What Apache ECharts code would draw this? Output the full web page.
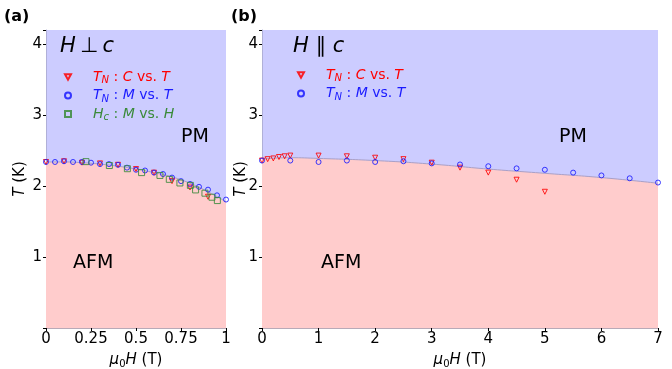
<!DOCTYPE html>
<html><head><meta charset="utf-8">
<script src="https://cdn.jsdelivr.net/npm/echarts@6/dist/echarts.min.js"></script>
<style>html,body{margin:0;padding:0;background:#fff}#c{width:672px;height:369px}</style>
</head><body><div id="c"></div>
<script>
// Panel (a): H perp c
var aBoundH = [0, 0.1, 0.2, 0.3, 0.4, 0.5, 0.6, 0.7, 0.8, 0.9, 1.0];
var aBoundT = [2.34, 2.34, 2.33, 2.31, 2.28, 2.24, 2.19, 2.13, 2.04, 1.92, 1.78];
var aCH = [0, 0.1, 0.2, 0.3, 0.4, 0.5, 0.6, 0.7, 0.8, 0.9];
var aCT = [2.34, 2.35, 2.33, 2.32, 2.30, 2.24, 2.19, 2.07, 1.98, 1.85];
var aMH = [0, 0.05, 0.1, 0.15, 0.2, 0.25, 0.3, 0.35, 0.4, 0.45, 0.5, 0.55, 0.6, 0.65, 0.7, 0.75, 0.8, 0.85, 0.9, 0.95, 1.0];
var aMT = [2.34, 2.34, 2.35, 2.34, 2.34, 2.33, 2.31, 2.31, 2.30, 2.26, 2.23, 2.22, 2.19, 2.17, 2.12, 2.07, 2.03, 1.99, 1.95, 1.87, 1.81];
var aHcH = [0.222, 0.352, 0.452, 0.531, 0.633, 0.685, 0.744, 0.802, 0.831, 0.883, 0.922, 0.952];
var aHcT = [2.345, 2.29, 2.245, 2.19, 2.15, 2.095, 2.044, 2.01, 1.946, 1.90, 1.843, 1.796];
// Panel (b): H parallel c
var bBoundH = [0, 0.5, 1, 2, 3, 4, 5, 6, 7];
var bBoundT = [2.38, 2.40, 2.39, 2.36, 2.31, 2.24, 2.18, 2.12, 2.04];
var bCH = [0, 0.1, 0.2, 0.3, 0.4, 0.5, 1, 1.5, 2, 2.5, 3, 3.5, 4, 4.5, 5];
var bCT = [2.36, 2.38, 2.39, 2.41, 2.42, 2.43, 2.43, 2.42, 2.40, 2.38, 2.33, 2.26, 2.19, 2.09, 1.92];
var bMH = [0, 0.5, 1, 1.5, 2, 2.5, 3, 3.5, 4, 4.5, 5, 5.5, 6, 6.5, 7];
var bMT = [2.36, 2.36, 2.34, 2.36, 2.34, 2.35, 2.32, 2.305, 2.28, 2.25, 2.23, 2.19, 2.15, 2.11, 2.05];
var aXTicks = ['0', '0.25', '0.5', '0.75', '1'];
var yTicks = ['1', '2', '3', '4'];

function zip(x, y) { return x.map(function (v, i) { return [v, y[i]]; }); }

var chart = echarts.init(document.getElementById('c'), null, {renderer: 'canvas'});
var FONT = 'DejaVu Sans';
var RED = '#ff0000', BLUE = '#1a1aff', GREEN = '#3a8a3a';
var TRI_DOWN = 'path://M0,0L10,0L5,9Z';

function richSet(col) {
  return {
    i: {fontFamily: FONT, fontSize: 14, fontStyle: 'italic', color: col},
    s: {fontFamily: FONT, fontSize: 10, fontStyle: 'italic', color: col, verticalAlign: 'bottom', padding: [7, 0, 0, 0]},
    n: {fontFamily: FONT, fontSize: 14, color: col}
  };
}
var rich = {};
[['r', RED], ['b', BLUE], ['g', GREEN]].forEach(function (p) {
  var rs = richSet(p[1]);
  rich[p[0] + 'i'] = rs.i; rich[p[0] + 's'] = rs.s; rich[p[0] + 'n'] = rs.n;
});
var legendFmt = {
  'C': '{ri|T}{rs|N}{rn| : }{ri|C}{rn| vs. }{ri|T}',
  'M': '{bi|T}{bs|N}{bn| : }{bi|M}{bn| vs. }{bi|T}',
  'Hc': '{gi|H}{gs|c}{gn| : }{gi|M}{gn| vs. }{gi|H}'
};

function xAxis(idx, max, interval, labels) {
  return {
    type: 'value', gridIndex: idx, min: 0, max: max, interval: interval,
    axisLine: {show: true, lineStyle: {color: '#b8aab8', width: 1}},
    axisTick: {show: true, length: 3, lineStyle: {color: '#000'}},
    splitLine: {show: false},
    axisLabel: {fontFamily: FONT, fontSize: 15, color: '#000', margin: 4,
      formatter: function (v) { return labels ? labels[Math.round(v / interval)] : String(v); }},
    name: '{i|μ}{s|0}{i|H}{n| (T)}', nameLocation: 'middle', nameGap: 23, nameMoveOverlap: false,
    nameTextStyle: {rich: {
      i: {fontFamily: FONT, fontSize: 15, fontStyle: 'italic', color: '#000'},
      s: {fontFamily: FONT, fontSize: 10, color: '#000', verticalAlign: 'bottom', padding: [8, 0, 0, 0]},
      n: {fontFamily: FONT, fontSize: 15, color: '#000'}
    }}
  };
}
function yAxis(idx, gap) {
  return {
    type: 'value', gridIndex: idx, min: 0, max: 4.2, interval: 1,
    axisLine: {show: true, lineStyle: {color: '#b0b0d8', width: 1}},
    axisTick: {show: true, length: 3, lineStyle: {color: '#000'}},
    splitLine: {show: false},
    axisLabel: {fontFamily: FONT, fontSize: 15, color: '#000', margin: 4,
      formatter: function (v) { var k = yTicks.indexOf(String(v)); return k >= 0 ? yTicks[k] : ''; }},
    name: '{i|T}{n| (K)}', nameLocation: 'middle', nameGap: gap, nameRotate: 90, nameMoveOverlap: false,
    nameTextStyle: {rich: {
      i: {fontFamily: FONT, fontSize: 15, fontStyle: 'italic', color: '#000'},
      n: {fontFamily: FONT, fontSize: 15, color: '#000'}
    }}
  };
}
function boundary(idx, x, y) {
  return {
    type: 'line', xAxisIndex: idx, yAxisIndex: idx, data: zip(x, y), showSymbol: false, symbol: 'none',
    smooth: true, silent: true, z: 1,
    lineStyle: {color: '#a8a0c8', width: 1},
    areaStyle: {color: '#ffcccc', opacity: 1, origin: 'start'}
  };
}
function scat(idx, name, x, y, sym, col, size) {
  return {
    type: 'scatter', name: name, xAxisIndex: idx, yAxisIndex: idx, data: zip(x, y),
    symbol: sym, symbolSize: size, z: 3,
    itemStyle: {color: 'rgba(0,0,0,0)', borderColor: col, borderWidth: 1, opacity: 0.85}
  };
}

var option = {
  animation: false,
  backgroundColor: '#fff',
  grid: [
    {left: 46, right: 446, top: 30, bottom: 41, show: true, backgroundColor: '#ccccff', borderWidth: 0, containLabel: false, outerBoundsMode: 'none'},
    {left: 262, right: 14, top: 30, bottom: 41, show: true, backgroundColor: '#ccccff', borderWidth: 0, containLabel: false, outerBoundsMode: 'none'}
  ],
  xAxis: [xAxis(0, 1, 0.25, aXTicks), xAxis(1, 7, 1, null)],
  yAxis: [yAxis(0, 18), yAxis(1, 13)],
  legend: [
    {left: 59, top: 65, orient: 'vertical', itemGap: 3, itemWidth: 6, itemHeight: 6,
     data: [{name: 'C', icon: TRI_DOWN}, {name: 'M', icon: 'circle'}, {name: 'Hc', icon: 'rect'}],
     formatter: function (n) { return legendFmt[n]; },
     textStyle: {rich: rich, padding: [0, 0, 0, 17]}, selectedMode: false},
    {left: 292, top: 63, orient: 'vertical', itemGap: 3, itemWidth: 6, itemHeight: 6,
     data: [{name: 'C ', icon: TRI_DOWN}, {name: 'M ', icon: 'circle'}],
     formatter: function (n) { return legendFmt[n.trim()]; },
     textStyle: {rich: rich, padding: [0, 0, 0, 17]}, selectedMode: false}
  ],
  series: [
    boundary(0, aBoundH, aBoundT),
    scat(0, 'C', aCH, aCT, TRI_DOWN, RED, 5),
    scat(0, 'M', aMH, aMT, 'circle', BLUE, 5),
    scat(0, 'Hc', aHcH, aHcT, 'rect', GREEN, 6),
    boundary(1, bBoundH, bBoundT),
    scat(1, 'C ', bCH, bCT, TRI_DOWN, RED, 5),
    scat(1, 'M ', bMH, bMT, 'circle', BLUE, 5)
  ],
  graphic: {elements: [
    {type: 'text', z: 100, left: 4, top: 9, style: {text: '(a)', fontFamily: FONT, fontSize: 16, fontWeight: 'bold', fill: '#000'}},
    {type: 'text', z: 100, left: 231, top: 9, style: {text: '(b)', fontFamily: FONT, fontSize: 16, fontWeight: 'bold', fill: '#000'}},
    {type: 'text', z: 100, left: 60, top: 36, style: {text: '{i|H}{n|\u2009⊥\u2009}{i|c}', rich: {
      i: {fontFamily: FONT, fontSize: 21, fontStyle: 'italic', fill: '#000'},
      n: {fontFamily: FONT, fontSize: 21, fill: '#000'}}}},
    {type: 'text', z: 100, left: 293, top: 36, style: {text: '{i|H}{n| ∥ }{i|c}', rich: {
      i: {fontFamily: FONT, fontSize: 21, fontStyle: 'italic', fill: '#000'},
      n: {fontFamily: FONT, fontSize: 21, fill: '#000'}}}},
    {type: 'text', z: 100, left: 181, top: 128, style: {text: 'PM', fontFamily: FONT, fontSize: 19, fill: '#000'}},
    {type: 'text', z: 100, left: 559, top: 128, style: {text: 'PM', fontFamily: FONT, fontSize: 19, fill: '#000'}},
    {type: 'text', z: 100, left: 73, top: 254, style: {text: 'AFM', fontFamily: FONT, fontSize: 19, fill: '#000'}},
    {type: 'text', z: 100, left: 321, top: 254, style: {text: 'AFM', fontFamily: FONT, fontSize: 19, fill: '#000'}}
  ]}
};
chart.setOption(option);
</script></body></html>
